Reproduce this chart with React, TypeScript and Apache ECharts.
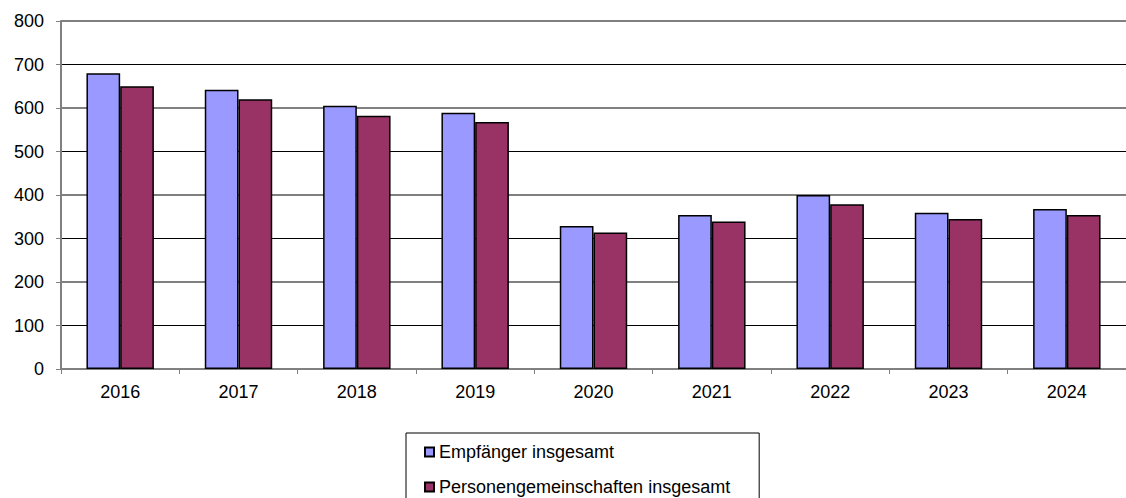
import React, { useEffect, useRef } from "react";
import * as echarts from "echarts";

const categories = ["2016", "2017", "2018", "2019", "2020", "2021", "2022", "2023", "2024"];
const empfaenger = [680, 642, 605, 589, 329, 354, 400, 359, 368];
const personengemeinschaften = [650, 620, 582, 568, 314, 339, 379, 345, 354];
const seriesNames = ["Empfänger insgesamt", "Personengemeinschaften insgesamt"];

const FONT = "'Liberation Sans', Arial, sans-serif";

export default function App() {
  const ref = useRef<HTMLDivElement>(null);
  useEffect(() => {
    if (!ref.current) return;
    const chart = echarts.init(ref.current, null, { renderer: "svg" });
    chart.setOption({
      animation: false,
      backgroundColor: "#fff",
      grid: { left: 61, top: 21, width: 1073, height: 348, containLabel: false },
      legend: {
        orient: "vertical",
        left: 406,
        top: 433,
        height: 200,
        width: 400,
        itemWidth: 9,
        itemHeight: 9,
        itemGap: 17,
        padding: [10, 29, 20, 18],
        borderColor: "#000",
        borderWidth: 1,
        icon: "rect",
        align: "left",
        textStyle: { fontSize: 18, color: "#000", fontFamily: FONT },
        data: seriesNames,
      },
      xAxis: {
        type: "category",
        data: categories,
        axisLine: { lineStyle: { color: "#808080", width: 2 } },
        axisTick: { show: true, length: 5, lineStyle: { color: "#808080", width: 1 } },
        axisLabel: { color: "#000", fontSize: 18, fontFamily: FONT, margin: 14 },
      },
      yAxis: [
        {
          type: "value",
          min: 0,
          max: 800,
          interval: 100,
          axisLine: { show: true, lineStyle: { color: "#808080", width: 2 } },
          axisTick: { show: true, length: 5, lineStyle: { color: "#808080" } },
          axisLabel: { color: "#000", fontSize: 18, fontFamily: FONT, margin: 17 },
          splitLine: { show: true, lineStyle: { color: ["rgba(0,0,0,0)", "#000"], width: 1 } },
        },
        {
          type: "value",
          min: 0,
          max: 800,
          interval: 200,
          position: "left",
          axisLine: { show: false },
          axisTick: { show: false },
          axisLabel: { show: false },
          splitLine: { show: true, lineStyle: { color: "#808080", width: 2 } },
        },
      ],
      series: [
        {
          name: seriesNames[0],
          type: "bar",
          data: empfaenger,
          barGap: "0%",
          barCategoryGap: "43%",
          itemStyle: { color: "#9999FF", borderColor: "#000", borderWidth: 1.5 },
        },
        {
          name: seriesNames[1],
          type: "bar",
          data: personengemeinschaften,
          barGap: "0%",
          barCategoryGap: "43%",
          itemStyle: { color: "#993366", borderColor: "#000", borderWidth: 1.5 },
        },
      ],
    });
    return () => chart.dispose();
  }, []);
  return (
    <div
      ref={ref}
      style={{ position: "fixed", left: 0, top: 0, width: 1126, height: 498 }}
    />
  );
}
